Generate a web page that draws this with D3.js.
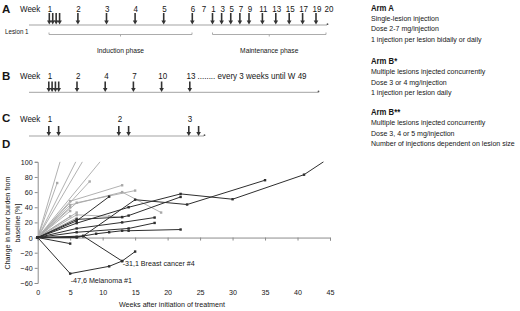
<!DOCTYPE html>
<html><head><meta charset="utf-8">
<script src="https://cdn.jsdelivr.net/npm/d3@7"></script>
<style>
body{margin:0;background:#fff}
svg{display:block}
text{font-family:"Liberation Sans",Arial,sans-serif;fill:#161616}
</style>
</head><body>
<svg id="c" width="520" height="311"></svg>
<script>
// ---------- DATA ----------
// Panel A (timeline): induction weeks, maintenance weeks, injection times
const weeksAInd = ["1","2","3","4","5","6","7"];
const weeksAMain = ["1","3","5","7","9","11","13","15","17","19","20"];
const injAInd = [1, 1.12, 1.24, 1.36, 2, 3, 4, 5, 6];
const injAMain = [1, 3, 5, 7, 9, 11, 13, 15, 17, 19];
const phasesA = ["Induction phase", "Maintenance phase"];
// Panel B
const weeksB = ["1","2","4","7","10","13"];
const injB = [4, 1, 1, 1, 1, 1];
const noteB = "........ every 3 weeks until W 49";
// Panel C
const weeksC = ["1","2","3"];
const injC = [2, 2, 2];
// Arm descriptions
const armTitles = ["Arm A", "Arm B*", "Arm B**"];
const armLines = [
  ["Single-lesion injection", "Dose 2-7 mg/injection", "1 injection per lesion bidaily or daily"],
  ["Multiple lesions injected concurrently", "Dose 3 or 4 mg/injection", "1 injection per lesion daily"],
  ["Multiple lesions injected concurrently", "Dose 3, 4 or 5 mg/injection", "Number of injections dependent on lesion size"]
];
// Panel D: change in tumor burden [%] vs weeks ([week, value])
const xTicksD = [0,5,10,15,20,25,30,35,40,45];
const yTicksD = [-60,-40,-20,0,20,40,60,80,100];
const grayLines = [
  [[0,0],[3.44,100]],
  [[0,0],[5.86,100]],
  [[0,0],[6.88,100]],
  [[0,0],[9.6,100]],
  [[0,0],[3,72]],
  [[0,0],[8,74]],
  [[0,0],[5,48],[13,69]],
  [[0,0],[5,43],[13,60],[19,33]],
  [[0,0],[6,46],[15,62]],
  [[0,0],[5,40]],
  [[0,0],[5,35]],
  [[0,0],[6,30],[11,28],[13,27]],
  [[0,0],[6,26]],
  [[0,0],[5,28]],
  [[0,0],[6,33]]
];
const darkLines = [
  [[0,0],[5,-47.6],[11,-38],[13,-31],[15,-18.5]],
  [[0,0],[6,1],[7,2],[13,-31.1]],
  [[0,0],[5,-8]],
  [[0,0],[6,0],[7,2],[15,50],[23,43.6],[35,75.7]],
  [[0,0],[6,19],[14,40],[22,57.6],[30,50.6],[41,83],[44,100]],
  [[0,0],[6,24],[13,27],[14,29],[22,53.6]],
  [[0,0],[7,2],[9,5],[11,7],[13,9],[14,9],[22,10.6]],
  [[0,0],[6,7],[14,12],[18,19.3]],
  [[0,0],[6,12],[13,20],[18,26.4]],
  [[0,0],[6,22],[11,54]]
];
const annotations = [
  {week: 5, value: -47.6, label: "-47,6 Melanoma #1"},
  {week: 13, value: -31.1, label: "-31,1 Breast cancer #4"}
];

// ---------- DRAWING ----------
const svg = d3.select("#c");
const ARW = "#333", TL = "#a3a3a3", AX = "#8c8c8c", GRAY = "#a8a8a8", DARK = "#2e2e2e";
const SQ = 0.89;
function squeeze(sel, f = SQ) {
  sel.each(function () {
    const L = this.getComputedTextLength();
    if (L > 0) {
      this.setAttribute("textLength", (L * f).toFixed(2));
      this.setAttribute("lengthAdjust", "spacingAndGlyphs");
    }
  });
  return sel;
}
function txt(g, x, y, s, size, anchor = "start", weight = "normal") {
  return g.append("text").attr("x", x).attr("y", y).attr("font-size", size)
    .attr("text-anchor", anchor).attr("font-weight", weight).text(s);
}
function arrow(g, x, y0, y1) {
  g.append("line").attr("x1", x).attr("x2", x).attr("y1", y0).attr("y2", y1 - 3)
    .attr("stroke", ARW).attr("stroke-width", 1.6);
  g.append("path").attr("d", `M${x - 2.3},${y1 - 4}L${x + 2.3},${y1 - 4}L${x},${y1}Z`).attr("fill", ARW);
}
function timeline(g, x0, x1, y) {
  g.append("line").attr("x1", x0).attr("x2", x1).attr("y1", y).attr("y2", y).attr("stroke", TL).attr("stroke-width", 1);
  g.append("circle").attr("cx", x1 + 0.5).attr("cy", y - 0.8).attr("r", 0.9).attr("fill", "#555");
}

// Panel labels
[["A", 12.5], ["B", 79.5], ["C", 122], ["D", 148]].forEach(([l, y]) => txt(svg, 2, y, l, 11.5, "start", "bold"));

// ---- Panel A ----
const gA = svg.append("g");
const xA = d3.scaleLinear().domain([1, 6, 7, 8, 16, 26, 27]).range([50, 193, 204, 213.5, 250, 317, 329]);
txt(gA, 20, 11.5, "Week", 9);
weeksAInd.forEach(w => txt(gA, xA(+w), 11.5, w, 9, "middle"));
weeksAMain.forEach(w => txt(gA, xA(7 + (+w)), 11.5, w, 9, "middle"));
gA.selectAll("text").call(squeeze);
timeline(gA, 29, xA(27) - 2, 25);
injAInd.forEach(d => arrow(gA, xA(d) - 0.7, 13, 24.5));
injAMain.forEach(m => arrow(gA, xA(7 + m) - 1, 13, 24.5));
squeeze(txt(gA, 5, 34, "Lesion 1", 7));
function bracket(g, x0, x1, y) {
  const xm = (x0 + x1) / 2;
  g.append("path").attr("d", `M${x0},${y - 2}V${y}H${x1}V${y - 2}M${xm},${y}V${y + 2}`)
    .attr("fill", "none").attr("stroke", TL).attr("stroke-width", 0.9);
  return xm;
}
const mInd = bracket(gA, xA(1) - 1, xA(6) - 1, 34.5);
const mMain = bracket(gA, xA(8) - 1, xA(27) - 3, 34.5);
squeeze(txt(gA, mInd, 52.5, phasesA[0], 7.5, "middle"));
squeeze(txt(gA, mMain, 52.5, phasesA[1], 7.5, "middle"));

// ---- Panel B ----
const gB = svg.append("g");
const xB = d3.scalePoint().domain(weeksB).range([50, 191]);
squeeze(txt(gB, 20, 79, "Week", 9));
weeksB.forEach(w => squeeze(txt(gB, xB(w), 79, w, 9, "middle")));
squeeze(txt(gB, xB("13") + 6.5, 79, noteB, 9));
timeline(gB, 29, 318, 92.3);
weeksB.forEach((w, i) => { for (let k = 0; k < injB[i]; k++) arrow(gB, xB(w) - 1.2 + k * 3.3, 81.5, 92); });

// ---- Panel C ----
const gC = svg.append("g");
const xC = d3.scalePoint().domain(weeksC).range([50, 190]);
squeeze(txt(gC, 20, 121.5, "Week", 9));
weeksC.forEach(w => squeeze(txt(gC, xC(w), 121.5, w, 9, "middle")));
timeline(gC, 29, 204, 136);
weeksC.forEach((w, i) => { for (let k = 0; k < injC[i]; k++) arrow(gC, xC(w) - 1.2 + k * 9.8, 126, 136); });

// ---- Arm texts (horizontally condensed group) ----
const gT = svg.append("g").attr("transform", "translate(371,0) scale(0.88,1)");
const armY = [11, 64.3, 115.3];
armTitles.forEach((t, i) => {
  txt(gT, 0, armY[i], t, 8.8, "start", "bold");
  armLines[i].forEach((s, j) => txt(gT, 0, armY[i] + 10.2 * (j + 1), s, 8));
});

// ---- Panel D ----
const gD = svg.append("g");
const xD = d3.scaleLinear().domain([0, 45]).range([37.7, 330]);
const yD = d3.scaleLinear().domain([-60, 100]).range([283, 161.8]);
svg.append("clipPath").attr("id", "clipD").append("rect")
  .attr("x", xD(0) - 2).attr("y", yD(100) - 0.5).attr("width", xD(45) - xD(0) + 4).attr("height", yD(-60) - yD(100) + 1);

// y axis
const yAx = gD.append("g").attr("transform", `translate(${xD(0)},0)`)
  .call(d3.axisLeft(yD).tickValues(yTicksD).tickSize(3).tickPadding(2));
yAx.select(".domain").attr("stroke", AX);
yAx.selectAll(".tick line").attr("stroke", AX);
yAx.selectAll("text").attr("font-size", 8).attr("font-family", null).attr("fill", "#161616").call(squeeze);
// x axis line with ticks at zero
const xAx = gD.append("g").attr("transform", `translate(0,${yD(0)})`)
  .call(d3.axisBottom(xD).tickValues(xTicksD).tickSize(3).tickFormat(""));
xAx.select(".domain").attr("stroke", AX);
xAx.selectAll(".tick line").attr("stroke", AX);
// x labels at bottom
const xLab = gD.append("g").attr("transform", `translate(0,${yD(-60) + 3})`)
  .call(d3.axisBottom(xD).tickValues(xTicksD).tickSize(0).tickPadding(3));
xLab.select(".domain").remove();
xLab.selectAll("text").attr("font-size", 8).attr("font-family", null).attr("fill", "#161616").call(squeeze);

squeeze(txt(gD, 172, 307, "Weeks after initiation of treatment", 8, "middle"));
const yt = gD.append("g").attr("transform", "translate(0,223) rotate(-90)");
squeeze(txt(yt, 0, 10, "Change in tumor burden from", 8, "middle"));
squeeze(txt(yt, 0, 20, "baseline [%]", 8, "middle"));

const line = d3.line().x(d => xD(d[0])).y(d => yD(d[1]));
const plot = gD.append("g").attr("clip-path", "url(#clipD)");
function drawSeries(data, color, w) {
  data.forEach(s => {
    plot.append("path").attr("d", line(s)).attr("fill", "none").attr("stroke", color).attr("stroke-width", w);
    s.filter(p => p[1] < 100).forEach(p => plot.append("rect")
      .attr("x", xD(p[0]) - 1.2).attr("y", yD(p[1]) - 1.2).attr("width", 2.4).attr("height", 2.4).attr("fill", color));
  });
}
drawSeries(grayLines, GRAY, 0.9);
drawSeries(darkLines, DARK, 1);

annotations.forEach(a => squeeze(txt(gD, xD(a.week) + 0.5, yD(a.value) + 9.5 - (a.week > 10 ? 4.5 : 0), a.label, 8)));
</script>
</body></html>
